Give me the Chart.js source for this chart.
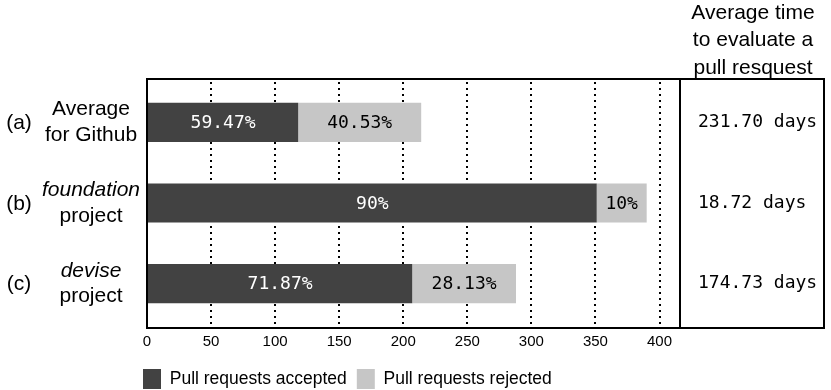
<!DOCTYPE html>
<html>
<head>
<meta charset="utf-8">
<script src="https://cdn.jsdelivr.net/npm/chart.js@4"></script>
<style>
  html, body { margin: 0; padding: 0; background: #fff; }
  #wrap { width: 831px; height: 390px; position: relative; }
</style>
</head>
<body>
<div id="wrap"><canvas id="chart"></canvas></div>
<script>
// data
const categories = ["(a)", "(b)", "(c)"];
const labelLine1 = ["Average", "foundation", "devise"];
const labelLine2 = ["for Github", "project", "project"];
const accepted = [118, 351, 207];
const rejected = [96, 39, 81];
const acceptedPct = ["59.47%", "90%", "71.87%"];
const rejectedPct = ["40.53%", "10%", "28.13%"];
const avgTime = ["231.70 days", "18.72 days", "174.73 days"];
const panelTitle = ["Average time", "to evaluate a", "pull resquest"];
const X_MIN = 0, X_MAX = 416, X_STEP = 50;

const DARK = "#424242";
const LIGHT = "#c6c6c6";
const SANS = "'Liberation Sans', Arial, sans-serif";
const MONO = "'DejaVu Sans Mono', monospace";
const italicFirst = [false, true, true];
const PANEL_W = 144;

// frame, row labels, side panel, bar labels
const decorations = {
    id: "decorations",
    afterDatasetsDraw(chart) {
        const ctx = chart.ctx;
        ctx.save();
        ctx.font = "18px " + MONO;
        ctx.textAlign = "center";
        ctx.textBaseline = "middle";
        [acceptedPct, rejectedPct].forEach((texts, di) => {
            chart.getDatasetMeta(di).data.forEach((bar, i) => {
                ctx.fillStyle = di === 0 ? "#fff" : "#000";
                ctx.fillText(texts[i], (bar.x + bar.base) / 2, bar.y + 1);
            });
        });
        ctx.restore();
    },
    afterDraw(chart) {
        const ctx = chart.ctx;
        const a = chart.chartArea;
        const y = chart.scales.y;
        const top = a.top - 3, bottom = a.bottom + 4;
        ctx.save();
        ctx.strokeStyle = "#000";
        ctx.lineWidth = 2;
        ctx.strokeRect(a.left, top, a.right - a.left, bottom - top);
        ctx.strokeRect(a.right, top, PANEL_W, bottom - top);

        ctx.fillStyle = "#000";
        ctx.textBaseline = "middle";
        categories.forEach((c, i) => {
            const cy = y.getPixelForValue(i);
            ctx.textAlign = "center";
            ctx.font = "21px " + SANS;
            ctx.fillText(c, 19, cy + 1);
            ctx.font = (italicFirst[i] ? "italic " : "") + "21px " + SANS;
            ctx.fillText(labelLine1[i], 91, cy - 13);
            ctx.font = "21px " + SANS;
            ctx.fillText(labelLine2[i], 91, cy + 13);

            ctx.textAlign = "left";
            ctx.font = "18px " + MONO;
            ctx.fillText(avgTime[i], a.right + 18, cy);
        });

        ctx.textAlign = "center";
        ctx.textBaseline = "alphabetic";
        ctx.font = "21px " + SANS;
        panelTitle.forEach((t, i) => {
            ctx.fillText(t, a.right + PANEL_W / 2 + 1, 19 + i * 27.3);
        });
        ctx.restore();
    }
};

const chart = new Chart(document.getElementById("chart"), {
    type: "bar",
    data: {
        labels: categories,
        datasets: [
            {
                label: "Pull requests accepted",
                data: accepted,
                backgroundColor: DARK,
                borderWidth: 0,
                barPercentage: 0.485,
                categoryPercentage: 1
            },
            {
                label: "Pull requests rejected",
                data: rejected,
                backgroundColor: LIGHT,
                borderWidth: 0,
                barPercentage: 0.485,
                categoryPercentage: 1
            }
        ]
    },
    options: {
        indexAxis: "y",
        responsive: true,
        maintainAspectRatio: false,
        animation: false,
        layout: {
            padding: { left: 133, right: 151, top: 82, bottom: -9 }
        },
        scales: {
            x: {
                stacked: true,
                min: X_MIN,
                max: X_MAX,
                grid: {
                    color: (c) => c.tick && c.tick.value === 0 ? "rgba(0,0,0,0)" : "#000",
                    lineWidth: 2,
                    drawTicks: false
                },
                border: { display: false, dash: [2, 4] },
                ticks: {
                    stepSize: X_STEP,
                    includeBounds: false,
                    padding: 9,
                    color: "#000",
                    font: { family: SANS, size: 15 }
                },
                afterFit: (s) => { s.height = 35; }
            },
            y: {
                stacked: true,
                grid: { display: false },
                border: { display: false },
                ticks: { display: false },
                afterFit: (s) => { s.width = 14; }
            }
        },
        plugins: {
            legend: {
                position: "bottom",
                align: "start",
                labels: {
                    boxWidth: 18,
                    boxHeight: 20,
                    padding: 10,
                    color: "#000",
                    font: { family: SANS, size: 17.5 }
                }
            },
            tooltip: { enabled: false }
        }
    },
    plugins: [decorations]
});
</script>
</body>
</html>
